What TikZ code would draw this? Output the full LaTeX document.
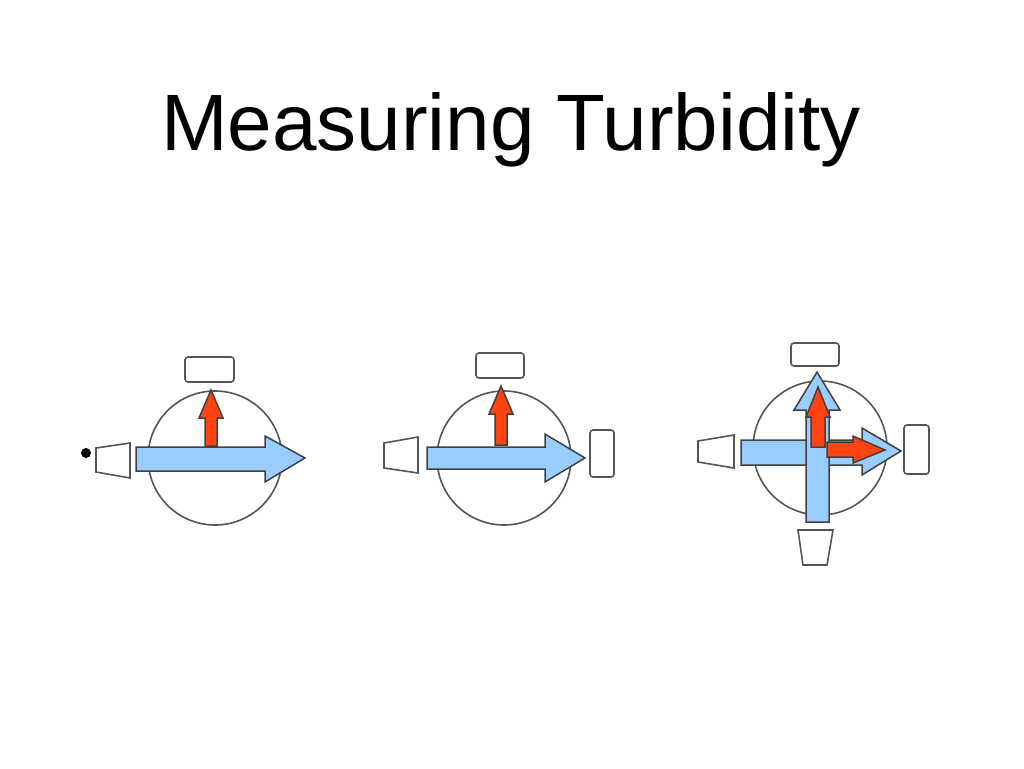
\documentclass[tikz,border=0pt]{standalone}
\usepackage{fontspec}
\setmainfont{Liberation Sans}
\definecolor{lblue}{HTML}{99CCFF}
\definecolor{lred}{HTML}{FF4411}
\definecolor{edge}{HTML}{555555}
\tikzset{
  ring/.style={draw=edge,line width=1.6pt},
  det/.style={draw=edge,line width=1.6pt,fill=white,rounded corners=3pt},
  src/.style={draw=edge,line width=1.6pt,fill=white},
  barb/.style={draw=black!75,line width=1.5pt,fill=lblue,line join=miter},
  rarr/.style={draw=black!75,line width=1.5pt,fill=lred}
}
\begin{document}
\begin{tikzpicture}[x=1pt,y=-1pt]
\useasboundingbox (0,0) rectangle (1024,768);
\node (title) at (511,130) {\fontsize{80}{88}\selectfont Measuring Turbidity};
% panel 1
\draw[ring] (215,458) circle (67);
\fill (86,453) circle (5);
\draw[src] (96,448) -- (130,443) -- (130,478) -- (96,472) -- cycle;
\draw[det] (185,357) rectangle (234,382);
\draw[barb] (136,447) -- (265,447) -- (265,436) -- (305,458) -- (265,482) -- (265,471) -- (136,471) -- cycle;
\draw[rarr] (205,446) -- (205,418) -- (199,418) -- (211,390) -- (223,418) -- (217,418) -- (217,446) -- cycle;
% panel 2
\draw[ring] (504,458) circle (67);
\draw[src] (384,443) -- (418,437) -- (418,473) -- (384,468) -- cycle;
\draw[det] (476,353) rectangle (524,378);
\draw[det] (590,430) rectangle (614,477);
\draw[barb] (427,447) -- (545,447) -- (545,434) -- (585,458) -- (545,482) -- (545,469) -- (427,469) -- cycle;
\draw[rarr] (495,445) -- (495,414) -- (489,414) -- (501,386) -- (513,414) -- (507,414) -- (507,445) -- cycle;
% panel 3
\draw[ring] (820,448) circle (67);
\draw[det] (791,343) rectangle (839,366);
\draw[det] (904,425) rectangle (929,474);
\draw[src] (698,441) -- (734,435) -- (734,468) -- (698,462) -- cycle;
\draw[src] (798,530) -- (833,530) -- (827,565) -- (803,565) -- cycle;
\draw[barb] (741,440) -- (862,440) -- (862,428) -- (901,451) -- (862,475) -- (862,465) -- (741,465) -- cycle;
\draw[barb] (806,522) -- (806,410) -- (794,410) -- (817,372) -- (840,410) -- (829,410) -- (829,522) -- cycle;
\draw[rarr] (811,447) -- (811,417) -- (806,417) -- (818,387) -- (830,417) -- (825,417) -- (825,447) -- cycle;
\draw[rarr] (827,442) -- (853,442) -- (853,436) -- (885,450) -- (853,463) -- (853,457) -- (827,457) -- cycle;
\end{tikzpicture}
\end{document}
